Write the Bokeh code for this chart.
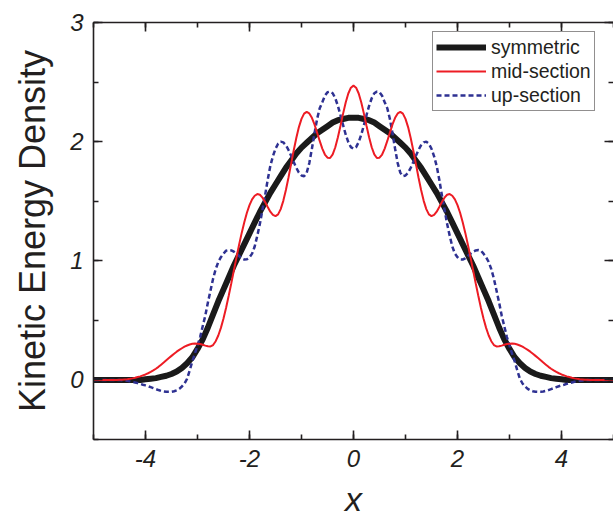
import numpy as np
from bokeh.plotting import figure
from bokeh.models import (Range1d, LinearAxis, SingleIntervalTicker, Legend, LegendItem,
                          ColumnDataSource, CustomJSTickFormatter)
from bokeh.embed import file_html
from bokeh.resources import INLINE

# sample positions
x_sym = np.round(np.arange(-5.0, 5.0001, 0.1), 2)
x_fine = np.round(np.arange(-5.0, 5.0001, 0.05), 2)

symmetric = [0, 0, 0, 0, 0, 0, 0, 0, 0, 0,
             0.005, 0.01, 0.015, 0.025, 0.035, 0.05, 0.07, 0.10, 0.14, 0.19,
             0.26, 0.34, 0.44, 0.55, 0.66, 0.76, 0.86, 0.96, 1.05, 1.14,
             1.23, 1.32, 1.41, 1.49, 1.57, 1.64, 1.71, 1.78, 1.84, 1.90,
             1.95, 1.99, 2.03, 2.07, 2.10, 2.13, 2.16, 2.18, 2.19, 2.20,
             2.20,
             2.20, 2.19, 2.18, 2.16, 2.13, 2.10, 2.07, 2.03, 1.99, 1.95,
             1.90, 1.84, 1.78, 1.71, 1.64, 1.57, 1.49, 1.41, 1.32, 1.23,
             1.14, 1.05, 0.96, 0.86, 0.76, 0.66, 0.55, 0.44, 0.34, 0.26,
             0.19, 0.14, 0.10, 0.07, 0.05, 0.035, 0.025, 0.015, 0.01, 0.005,
             0, 0, 0, 0, 0, 0, 0, 0, 0, 0]

mid_section = [
    0, 0, 0, 0, 0, 0, 0, 0, 0, 0,
    0.001, 0.002, 0.004, 0.006, 0.009, 0.013, 0.018, 0.024, 0.030, 0.038,
    0.046, 0.056, 0.067, 0.080, 0.094, 0.110, 0.128, 0.146, 0.165, 0.184,
    0.202, 0.220, 0.237, 0.252, 0.266, 0.279, 0.289, 0.297, 0.303, 0.305,
    0.304, 0.301, 0.295, 0.288, 0.282, 0.281, 0.293, 0.325, 0.373, 0.437,
    0.516, 0.606, 0.706, 0.811, 0.920, 1.029, 1.134, 1.234, 1.324, 1.403,
    1.467, 1.515, 1.546, 1.560, 1.554, 1.530, 1.493, 1.451, 1.412, 1.385,
    1.375, 1.390, 1.434, 1.503, 1.594, 1.699, 1.813, 1.926, 2.031, 2.122,
    2.191, 2.235, 2.250, 2.237, 2.200, 2.144, 2.076, 2.006, 1.942, 1.892,
    1.865, 1.863, 1.893, 1.953, 2.037, 2.134, 2.235, 2.329, 2.404, 2.453,
    2.470,
    2.453, 2.404, 2.329, 2.235, 2.134, 2.037, 1.953, 1.893, 1.863, 1.865,
    1.892, 1.942, 2.006, 2.076, 2.144, 2.200, 2.237, 2.250, 2.235, 2.191,
    2.122, 2.031, 1.926, 1.813, 1.699, 1.594, 1.503, 1.434, 1.390, 1.375,
    1.385, 1.412, 1.451, 1.493, 1.530, 1.554, 1.560, 1.546, 1.515, 1.467,
    1.403, 1.324, 1.234, 1.134, 1.029, 0.920, 0.811, 0.706, 0.606, 0.516,
    0.437, 0.373, 0.325, 0.293, 0.281, 0.282, 0.288, 0.295, 0.301, 0.304,
    0.305, 0.303, 0.297, 0.289, 0.279, 0.266, 0.252, 0.237, 0.220, 0.202,
    0.184, 0.165, 0.146, 0.128, 0.110, 0.094, 0.080, 0.067, 0.056, 0.046,
    0.038, 0.030, 0.024, 0.018, 0.013, 0.009, 0.006, 0.004, 0.002, 0.001,
    0, 0, 0, 0, 0, 0, 0, 0, 0, 0]

up_section = [
    0, 0, 0, 0, 0, 0, 0, 0, 0, 0,
    -0.001, -0.003, -0.005, -0.008, -0.012, -0.016, -0.021, -0.027, -0.033, -0.040,
    -0.046, -0.053, -0.061, -0.069, -0.077, -0.085, -0.092, -0.097, -0.100, -0.100,
    -0.099, -0.095, -0.087, -0.075, -0.055, -0.030, 0.010, 0.080, 0.155, 0.220,
    0.290, 0.360, 0.450, 0.540, 0.650, 0.750, 0.850, 0.930, 0.990, 1.030,
    1.060, 1.085, 1.090, 1.087, 1.076, 1.060, 1.040, 1.020, 1.011, 1.012,
    1.030, 1.060, 1.120, 1.210, 1.310, 1.430, 1.550, 1.680, 1.795, 1.877,
    1.940, 1.982, 2.000, 1.994, 1.970, 1.930, 1.881, 1.829, 1.780, 1.740,
    1.716, 1.710, 1.740, 1.820, 1.940, 2.070, 2.190, 2.280, 2.330, 2.385,
    2.415, 2.420, 2.406, 2.364, 2.300, 2.222, 2.138, 2.060, 1.996, 1.954,
    1.940,
    1.954, 1.996, 2.060, 2.138, 2.222, 2.300, 2.364, 2.406, 2.420, 2.415,
    2.385, 2.330, 2.280, 2.190, 2.070, 1.940, 1.820, 1.740, 1.710, 1.716,
    1.740, 1.780, 1.829, 1.881, 1.930, 1.970, 1.994, 2.000, 1.982, 1.940,
    1.877, 1.795, 1.680, 1.550, 1.430, 1.310, 1.210, 1.120, 1.060, 1.030,
    1.012, 1.011, 1.020, 1.040, 1.060, 1.076, 1.087, 1.090, 1.085, 1.060,
    1.030, 0.990, 0.930, 0.850, 0.750, 0.650, 0.540, 0.450, 0.360, 0.290,
    0.220, 0.155, 0.080, 0.010, -0.030, -0.055, -0.075, -0.087, -0.095, -0.099,
    -0.100, -0.100, -0.097, -0.092, -0.085, -0.077, -0.069, -0.061, -0.053, -0.046,
    -0.040, -0.033, -0.027, -0.021, -0.016, -0.012, -0.008, -0.005, -0.003, -0.001,
    0, 0, 0, 0, 0, 0, 0, 0, 0, 0]

series_names = ["symmetric", "mid-section", "up-section"]

FONT = "Liberation Sans"
AX = "#231f20"

p = figure(width=613, height=520, x_range=Range1d(-5, 5), y_range=Range1d(-0.5, 3),
           output_backend="svg", toolbar_location=None,
           min_border_left=93, min_border_right=0, min_border_top=22, min_border_bottom=0)
p.outline_line_color = None
p.xgrid.visible = False
p.ygrid.visible = False

def style_axis(ax, labels=True):
    ax.axis_line_color = AX
    ax.axis_line_width = 1.6
    ax.major_tick_line_color = AX
    ax.minor_tick_line_color = AX
    ax.major_tick_line_width = 1.6
    ax.minor_tick_line_width = 1.6
    ax.major_tick_in = 9
    ax.major_tick_out = 0
    ax.minor_tick_in = 5
    ax.minor_tick_out = 0
    if labels:
        ax.formatter = CustomJSTickFormatter(code="return tick.toFixed(0);")
        ax.major_label_text_font = FONT
        ax.major_label_text_font_style = "italic"
        ax.major_label_text_font_size = "24px"
        ax.major_label_text_color = AX
        ax.major_label_standoff = 10
    else:
        ax.formatter = CustomJSTickFormatter(code="return '';")
        ax.major_label_standoff = 0

xb = p.xaxis[0]
xb.ticker = SingleIntervalTicker(interval=2, num_minor_ticks=2)
style_axis(xb)
xb.axis_label = "x"
xb.axis_label_text_font = FONT
xb.axis_label_text_font_style = "italic"
xb.axis_label_text_font_size = "34px"
xb.axis_label_text_color = AX
xb.axis_label_standoff = 10

yl = p.yaxis[0]
yl.ticker = SingleIntervalTicker(interval=1, num_minor_ticks=2)
style_axis(yl)
yl.major_label_standoff = 10
yl.axis_label = "Kinetic Energy Density"
yl.axis_label_text_font = FONT
yl.axis_label_text_font_style = "normal"
yl.axis_label_text_font_size = "36px"
yl.axis_label_text_color = AX
yl.axis_label_standoff = 14

xt = LinearAxis(ticker=SingleIntervalTicker(interval=2, num_minor_ticks=2))
style_axis(xt, labels=False)
p.add_layout(xt, "above")

yr = LinearAxis(ticker=SingleIntervalTicker(interval=1, num_minor_ticks=2))
style_axis(yr, labels=False)
yr.axis_line_color = None
p.add_layout(yr, "right")

src_s = ColumnDataSource(dict(x=x_sym, y=symmetric))
src_f = ColumnDataSource(dict(x=x_fine, m=mid_section, u=up_section))

r_sym = p.line("x", "y", source=src_s, line_color="#1a1a1a", line_width=6)
r_up = p.line("x", "u", source=src_f, line_color="#2e3192", line_width=2.5, line_dash="5 3")
r_mid = p.line("x", "m", source=src_f, line_color="#ed1c24", line_width=2)

legend = Legend(items=[LegendItem(label=series_names[0], renderers=[r_sym]),
                       LegendItem(label=series_names[1], renderers=[r_mid]),
                       LegendItem(label=series_names[2], renderers=[r_up])],
                location=(339, 328))
legend.border_line_color = AX
legend.border_line_width = 1
legend.background_fill_color = "white"
legend.background_fill_alpha = 1
legend.padding = 3
legend.spacing = 0
legend.margin = 0
legend.label_standoff = 5
legend.glyph_width = 50
legend.glyph_height = 24
legend.label_height = 24
legend.label_text_font = FONT
legend.label_text_font_size = "19.5px"
legend.label_text_color = AX
p.add_layout(legend, "center")

open("out.html", "w").write(file_html(p, INLINE))
